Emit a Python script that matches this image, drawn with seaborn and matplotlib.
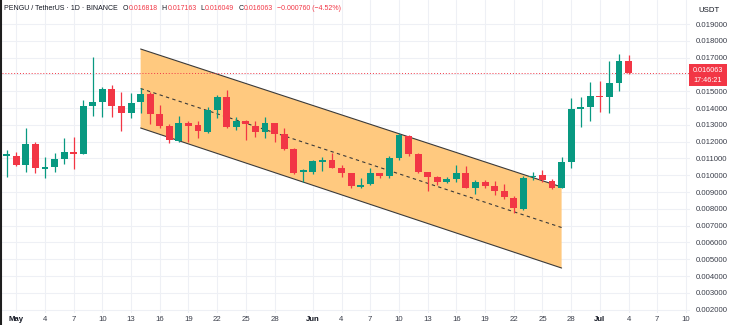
import numpy as np
import pandas as pd
import matplotlib
matplotlib.use('Agg')
import matplotlib.pyplot as plt
from matplotlib.patches import Rectangle
from matplotlib.lines import Line2D
import seaborn as sns

# ---------------- data ----------------
start = pd.Timestamp('2025-04-30')
dates = pd.date_range(start, periods=66, freq='D')

open_ = [0.011144, 0.011144, 0.010608, 0.011858, 0.010370, 0.010489, 0.010965, 0.011382, 0.011263, 0.014120,
         0.014358, 0.015132, 0.014120, 0.013703, 0.014358, 0.014834, 0.013644, 0.012929, 0.012037, 0.013108,
         0.012989, 0.012572, 0.013882, 0.014655, 0.012870, 0.013227, 0.012929, 0.012572, 0.013108, 0.012453,
         0.011561, 0.010192, 0.010192, 0.010787, 0.010906, 0.010430, 0.010132, 0.009299, 0.009477, 0.010132,
         0.009954, 0.011025, 0.012334, 0.011263, 0.010192, 0.009894, 0.009596, 0.009775, 0.010132, 0.009239,
         0.009596, 0.009358, 0.009061, 0.008644, 0.007989, 0.009894, 0.010013, 0.009656, 0.009239, 0.010787,
         0.013941, 0.014060, 0.014715, 0.014655, 0.015489, 0.016818]
high = [0.011501, 0.011382, 0.012810, 0.011977, 0.011084, 0.011323, 0.012215, 0.012275, 0.014477, 0.017036,
        0.015251, 0.015370, 0.014953, 0.014894, 0.015191, 0.014953, 0.014179, 0.013049, 0.013525, 0.013227,
        0.013227, 0.014060, 0.014775, 0.015072, 0.013465, 0.013287, 0.013227, 0.013465, 0.013108, 0.012810,
        0.011620, 0.010370, 0.010906, 0.011084, 0.011323, 0.010608, 0.010132, 0.009835, 0.010430, 0.010132,
        0.011144, 0.012513, 0.012394, 0.011323, 0.010192, 0.009954, 0.009894, 0.010608, 0.010549, 0.009716,
        0.009716, 0.009656, 0.009477, 0.008763, 0.009954, 0.010192, 0.010311, 0.009775, 0.011084, 0.014596,
        0.014655, 0.015548, 0.015608, 0.016798, 0.017215, 0.017163]
low = [0.009894, 0.010549, 0.010192, 0.010132, 0.009835, 0.010192, 0.010668, 0.010370, 0.011263, 0.013525,
       0.013465, 0.013465, 0.012632, 0.013406, 0.013703, 0.013049, 0.012810, 0.011918, 0.011977, 0.011977,
       0.012215, 0.012513, 0.013406, 0.012810, 0.012691, 0.012096, 0.012275, 0.012215, 0.011977, 0.011501,
       0.010073, 0.009596, 0.010073, 0.010251, 0.010430, 0.009894, 0.009239, 0.009239, 0.009418, 0.009835,
       0.009835, 0.010906, 0.011144, 0.010132, 0.009061, 0.009418, 0.009537, 0.009596, 0.009239, 0.008882,
       0.009239, 0.008823, 0.008585, 0.007751, 0.007930, 0.009716, 0.009596, 0.009180, 0.009239, 0.010430,
       0.012870, 0.013227, 0.013763, 0.013703, 0.015013, 0.016049]
close = [0.011263, 0.010608, 0.011858, 0.010430, 0.010489, 0.010965, 0.011382, 0.011263, 0.014120, 0.014358,
         0.015132, 0.014120, 0.013703, 0.014298, 0.014834, 0.013644, 0.012929, 0.012096, 0.013108, 0.012929,
         0.012632, 0.013882, 0.014655, 0.012870, 0.013227, 0.013049, 0.012572, 0.013108, 0.012453, 0.011561,
         0.010132, 0.010311, 0.010846, 0.010906, 0.010430, 0.010132, 0.009358, 0.009418, 0.010132, 0.009954,
         0.011025, 0.012394, 0.011263, 0.010192, 0.009894, 0.009596, 0.009775, 0.010132, 0.009239, 0.009596,
         0.009358, 0.009061, 0.008704, 0.008049, 0.009835, 0.009954, 0.009716, 0.009239, 0.010787, 0.013941,
         0.014060, 0.014715, 0.014655, 0.015489, 0.016818, 0.016063]

# descending channel (drawn by the analyst)
channel_dates = ['2025-05-14', '2025-06-27']
channel_upper = [0.017512, 0.009298]
channel_lower = [0.012810, 0.004476]

last_price = 0.016063
countdown = '17:46:21'
tick_dates = ['2025-05-01', '2025-05-04', '2025-05-07', '2025-05-10', '2025-05-13', '2025-05-16',
              '2025-05-19', '2025-05-22', '2025-05-25', '2025-05-28', '2025-06-01', '2025-06-04',
              '2025-06-07', '2025-06-10', '2025-06-13', '2025-06-16', '2025-06-19', '2025-06-22',
              '2025-06-25', '2025-06-28', '2025-07-01', '2025-07-04', '2025-07-07', '2025-07-10']
tick_labels = ['May', '4', '7', '10', '13', '16', '19', '22', '25', '28', 'Jun', '4', '7', '10',
               '13', '16', '19', '22', '25', '28', 'Jul', '4', '7', '10']
y_ticks = [0.002, 0.003, 0.004, 0.005, 0.006, 0.007, 0.008, 0.009, 0.010, 0.011,
           0.012, 0.013, 0.014, 0.015, 0.016, 0.017, 0.018, 0.019]

header_title = 'PENGU / TetherUS · 1D · BINANCE'
header_ohlc = [('O', '0.016818'), ('H', '0.017163'), ('L', '0.016049'), ('C', '0.016063')]
header_change = '\u22120.000760 (\u22124.52%)'

# ---------------- style ----------------
sns.set_style('white')
plt.rcParams['font.family'] = ['Liberation Sans', 'DejaVu Sans']

GREEN = '#089981'
RED = '#F23645'
GRID = '#EEF0F5'
TXT = '#3A3E4A'

W, H = 734, 325
fig = plt.figure(figsize=(W / 100, H / 100), dpi=100)
fig.patch.set_facecolor('white')
ax = fig.add_axes([2 / W, 12 / H, 688 / W, 313 / H])

df = pd.DataFrame({'date': dates, 'open': open_, 'high': high, 'low': low, 'close': close})
df['x'] = (df['date'] - start).dt.days
df['up'] = df['close'] >= df['open']

# grid
tick_x = [(pd.Timestamp(d) - start).days for d in tick_dates]
for tx in tick_x:
    ax.axvline(tx, color=GRID, lw=0.8, zorder=0)
for ty in y_ticks:
    ax.axhline(ty, color=GRID, lw=0.8, zorder=0)

# channel
cx = [(pd.Timestamp(d) - start).days for d in channel_dates]
ax.fill([cx[0], cx[1], cx[1], cx[0]],
        [channel_upper[0], channel_upper[1], channel_lower[1], channel_lower[0]],
        color='#FFC97F', lw=0, zorder=1)
ch = pd.DataFrame({'x': cx * 3,
                   'y': channel_upper + channel_lower + [(u + l) / 2 for u, l in zip(channel_upper, channel_lower)],
                   'line': ['upper'] * 2 + ['lower'] * 2 + ['mid'] * 2})
sns.lineplot(data=ch[ch.line == 'upper'], x='x', y='y', color='#3a3a3a', lw=0.8, ax=ax, zorder=2)
sns.lineplot(data=ch[ch.line == 'lower'], x='x', y='y', color='#3a3a3a', lw=0.8, ax=ax, zorder=2)
sns.lineplot(data=ch[ch.line == 'mid'], x='x', y='y', color='#3a3a3a', lw=0.8, ax=ax, zorder=2,
             linestyle=(0, (3, 3)))

# candles
colors = np.where(df['up'], GREEN, RED)
ax.vlines(df['x'], df['low'], df['high'], colors=colors, lw=0.9, zorder=3)
body_bottom = np.minimum(df['open'], df['close'])
body_h = np.maximum(np.abs(df['close'] - df['open']), 0.00008)
ax.bar(df['x'], body_h, bottom=body_bottom, width=0.72, color=colors, lw=0, zorder=4)

# last price line
ax.axhline(last_price, color=RED, lw=0.7, ls=(0, (1, 2)), zorder=2)

ax.set_xlim(-0.49, 71.42)
ax.set_ylim(0.001799, 0.020429)
ax.set_xlabel('')
ax.set_ylabel('')
for s in ax.spines.values():
    s.set_visible(False)

ax.set_xticks(tick_x)
ax.set_xticklabels(tick_labels)
for lab in ax.get_xticklabels():
    if lab.get_text() in ('May', 'Jun', 'Jul'):
        lab.set_fontweight('bold')
        lab.set_color('#131722')
    else:
        lab.set_color(TXT)
ax.tick_params(axis='x', length=0, pad=2.5, labelsize=5.6)

ax.yaxis.tick_right()
ax.set_yticks(y_ticks)
# the 0.016000 label is covered by the last-price tag in the reference
ax.set_yticklabels(['' if abs(v - 0.016) < 1e-9 else f'{v:.6f}' for v in y_ticks])
ax.tick_params(axis='y', length=0, pad=4, labelsize=5.6, labelcolor=TXT)

# price tag
def fx(px):
    return px / W

def fy(py):
    return 1 - py / H

fig.patches.append(Rectangle((fx(689), fy(86)), 38 / W, 22 / H, transform=fig.transFigure,
                             facecolor=RED, edgecolor='none', zorder=10))
fig.text(fx(708), fy(70), f'{last_price:.6f}', color='white', fontsize=5.2, ha='center', va='center', zorder=11)
fig.text(fx(708), fy(80), countdown, color='white', fontsize=5.2, ha='center', va='center', zorder=11)
fig.text(fx(709), fy(11), 'USDT', color='#131722', fontsize=5.6, ha='center', va='center')

# header: chained texts, each placed after the previous one
renderer = fig.canvas.get_renderer()
hy = fy(8)
HFS = 5.0
cur = 4.0

def put(txt, color, gap):
    global cur
    t = fig.text(fx(cur), hy, txt, color=color, fontsize=HFS, va='center')
    bb = t.get_window_extent(renderer)
    cur = bb.x1 + gap
    return t

put(header_title, '#131722', 5)
for letter, val in header_ohlc:
    put(letter, '#131722', 0.5)
    put(val, RED, 4)
put(header_change, RED, 0)

# left border
fig.add_artist(Line2D([1 / W, 1 / W], [0, 1], color='#1e1e1e', lw=1.5, transform=fig.transFigure))

fig.savefig('out.png', dpi=100)
